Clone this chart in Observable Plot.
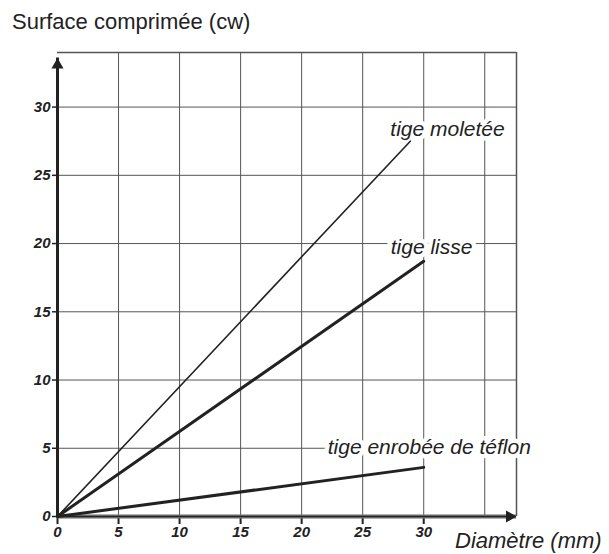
<!DOCTYPE html>
<html><head><meta charset="utf-8">
<script src="https://cdn.jsdelivr.net/npm/d3@7"></script>
<script src="https://cdn.jsdelivr.net/npm/@observablehq/plot@0.6"></script>
<style>
body{margin:0;background:#fff;}
#wrap{position:relative;width:609px;height:554px;font-family:"Liberation Sans",Arial,sans-serif;color:#222;}
#title{position:absolute;left:12px;top:11px;font-size:22px;line-height:1;white-space:nowrap;}
#xlabel{position:absolute;left:455px;top:530px;font-size:22px;font-style:italic;line-height:1;white-space:nowrap;}
#wrap svg{position:absolute;left:0;top:0;}
</style>
</head><body>
<div id="wrap">
  <div id="title">Surface comprimée (cw)</div>
  <div id="xlabel">Diamètre (mm)</div>
</div>
<script>
// Axes
const xDomain = [0, 37.6];
const yDomain = [0, 34];
const xTicks = [0, 5, 10, 15, 20, 25, 30];
const yTicks = [0, 5, 10, 15, 20, 25, 30];
const xGrid = [5, 10, 15, 20, 25, 30, 35];
const yGrid = [5, 10, 15, 20, 25, 30];
const yArrowTip = 33.6;

// Series
const seriesNames = ["tige moletée", "tige lisse", "tige enrobée de téflon"];
const moleteeX = [0, 28.9];
const moleteeY = [0, 27.5];
const lisseX = [0, 30];
const lisseY = [0, 18.7];
const teflonX = [0, 30];
const teflonY = [0, 3.6];

const toRows = (xs, ys) => xs.map((x, i) => ({x, y: ys[i]}));
const moletee = toRows(moleteeX, moleteeY);
const lisse = toRows(lisseX, lisseY);
const teflon = toRows(teflonX, teflonY);

const ink = "#222";
const font = "Liberation Sans, Arial, sans-serif";
const labelOpts = (dx, dy) => ({x: "x", y: "y", text: "name", textAnchor: "start", lineAnchor: "bottom",
  dx, dy, fontSize: 21, fontStyle: "italic", fill: ink, stroke: "white", strokeWidth: 9, fontFamily: font});

const chart = Plot.plot({
  width: 609, height: 554,
  marginLeft: 57, marginRight: 93, marginTop: 52, marginBottom: 38,
  style: {fontFamily: font, fontSize: "15px", background: "transparent", color: ink},
  x: {domain: xDomain},
  y: {domain: yDomain},
  marks: [
    Plot.ruleX(xGrid, {stroke: "#555", strokeWidth: 1}),
    Plot.ruleY(yGrid, {stroke: "#555", strokeWidth: 1}),
    Plot.ruleX([xDomain[1]], {stroke: "#555", strokeWidth: 1.5}),
    Plot.ruleY([yDomain[1]], {stroke: "#555", strokeWidth: 1.5}),
    Plot.text([{x: moleteeX[1], y: moleteeY[1], name: seriesNames[0]}], labelOpts(-20, -5)),
    Plot.text([{x: lisseX[1], y: lisseY[1], name: seriesNames[1]}], labelOpts(-33, -7)),
    Plot.text([{x: teflonX[1], y: teflonY[1], name: seriesNames[2]}], labelOpts(-96, -13)),
    Plot.axisX({ticks: xTicks, tickSize: 8, tickPadding: 2, fontSize: 15, fontStyle: "italic", fontWeight: "bold",
      label: null, strokeWidth: 2, stroke: ink, fill: ink}),
    Plot.axisY({ticks: yTicks, tickSize: 5, tickPadding: 2, fontSize: 15, fontStyle: "italic", fontWeight: "bold",
      label: null, strokeWidth: 1.5, stroke: ink, fill: ink}),
    Plot.ruleY([0], {x1: xDomain[0], x2: xDomain[1], stroke: "#666", strokeWidth: 4}),
    Plot.ruleY([0], {x1: xDomain[0], x2: xDomain[1], stroke: ink, strokeWidth: 1.2}),
    Plot.ruleX([0], {y1: yDomain[0], y2: yArrowTip, stroke: ink, strokeWidth: 3}),
    Plot.dot([{x: 0, y: yArrowTip}], {x: "x", y: "y", symbol: "triangle", r: 4.5, fill: ink, stroke: "none", dy: 7}),
    Plot.dot([{x: xDomain[1], y: 0}], {x: "x", y: "y", symbol: "triangle", r: 4.5, fill: ink, stroke: "none", rotate: 90, dx: -7}),
    Plot.line(moletee, {x: "x", y: "y", stroke: ink, strokeWidth: 1.6}),
    Plot.line(lisse, {x: "x", y: "y", stroke: ink, strokeWidth: 3}),
    Plot.line(teflon, {x: "x", y: "y", stroke: ink, strokeWidth: 3})
  ]
});
d3.select(chart).selectAll('g[aria-label$="tick label"], g[aria-label$="tick label"] text')
  .style("font-size", "15px").style("font-style", "italic").style("font-weight", "bold");
document.getElementById("wrap").appendChild(chart);
</script>
</body></html>
